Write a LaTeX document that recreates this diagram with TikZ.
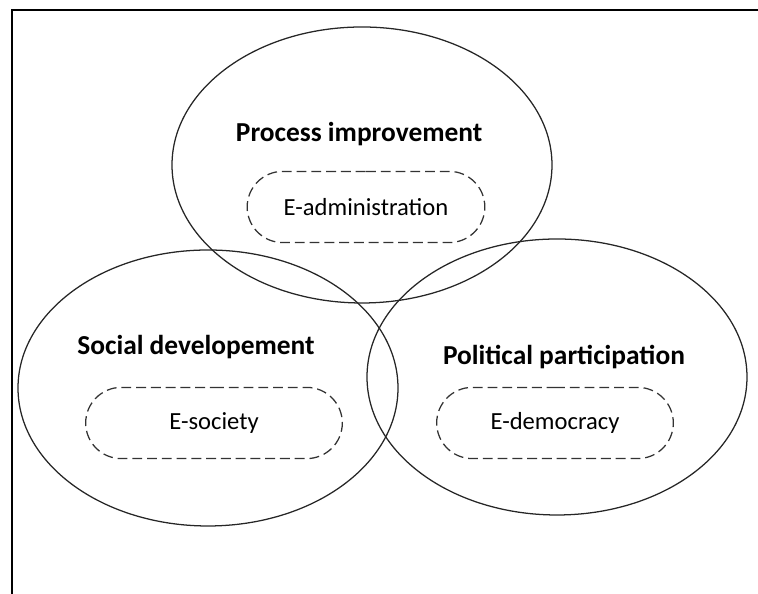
\documentclass[tikz,border=0pt]{standalone}
\usepackage{fontspec}
\setmainfont{Carlito}
\usetikzlibrary{shapes.geometric,shapes.misc}
\begin{document}
\begin{tikzpicture}[
  area/.style={ellipse, draw=black!85, line width=0.9pt, minimum width=9.5cm, minimum height=6.9cm, inner sep=0pt},
  title/.style={anchor=base, font=\fontsize{19.5}{23}\selectfont\bfseries},
  field/.style={rounded rectangle, draw=black!80, line width=0.9pt, dash pattern=on 7pt off 3.5pt, minimum height=1.78cm, font=\fontsize{17.5}{21}\selectfont}
]
\useasboundingbox (0,0) rectangle (18.95,14.85);
% frame
\coordinate (fb) at (0.3,0);
\coordinate (fc) at (0.3,14.6);
\coordinate (fr) at (18.95,14.6);
\draw [line width=1.5pt] (fb) -- (fc) -- (fr);
% the three areas
\node [area] (proc) at (9.05,10.725) {};
\node [area] (soc) at (5.2,5.15) {};
\node [area] (pol) at (13.925,5.425) {};
% labels
\node [title] (proct) at (8.98,11.3) {Process improvement};
\node [title] (soct) at (4.9,5.975) {Social developement};
\node [title] (polt) at (14.1,5.725) {Political participation};
% e-fields
\node [field, minimum width=6.175cm] (eadm) at (9.15,9.675) {E-administration};
\node [field, minimum width=6.65cm] (esoc) at (5.35,4.275) {E-society};
\node [field, minimum width=6.15cm] (edem) at (13.875,4.275) {E-democracy};
\end{tikzpicture}
\end{document}
